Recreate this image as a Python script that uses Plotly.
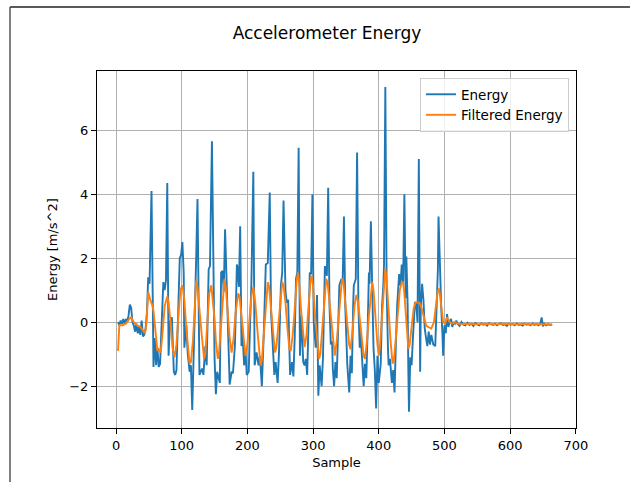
import plotly.graph_objects as go

# ---- data ----
energy_x = [3, 5, 7, 9, 11, 13, 15, 17, 19, 21, 23, 25, 27, 29, 31, 33, 35, 37, 39, 41, 43, 45, 47, 49, 51,
            54, 56, 57, 59, 61, 63, 65, 67, 69, 72, 74, 76, 78, 80, 82, 85, 88, 90, 92, 95, 97, 99, 101, 103,
            104, 107, 109, 112, 114, 116, 118, 121, 122, 124, 126, 127, 131, 133, 136, 138, 141, 143, 146, 148,
            150, 152, 154, 158, 160, 162, 164, 166, 168, 170, 173, 176, 178, 181, 184, 185, 187, 189, 191, 192,
            195, 197, 199, 202, 204, 206, 209, 210, 211, 214, 217, 219, 222, 225, 228, 231, 234, 236, 238, 241,
            243, 246, 248, 251, 253, 255, 258, 260, 262, 263, 265, 268, 270, 272, 274, 276, 278, 280, 282, 285,
            287, 289, 291, 293, 295, 297, 299, 301, 304, 306, 308, 310, 313, 315, 317, 318, 321, 323, 325, 327,
            329, 330, 332, 334, 336, 338, 340, 343, 345, 347, 349, 352, 355, 357, 359, 361, 362, 365, 367, 369,
            371, 372, 375, 377, 379, 381, 383, 385, 386, 388, 390, 392, 394, 396, 398, 400, 403, 405, 407, 408,
            410, 412, 414, 415, 417, 420, 422, 424, 426, 428, 431, 433, 435, 437, 439, 441, 442, 444, 445, 446,
            448, 450, 452, 454, 455, 457, 459, 461, 463, 464, 466, 468, 470, 472, 474, 476, 478, 480, 483, 486,
            488, 490, 491, 493, 495, 497, 498, 500, 502, 504, 506, 508, 510, 512, 514, 516, 518, 520, 523, 526,
            529, 532, 535, 538, 541, 544, 547, 550, 553, 556, 559, 562, 565, 568, 571, 574, 577, 580, 583, 586,
            589, 592, 595, 598, 601, 604, 607, 610, 613, 616, 619, 622, 625, 628, 631, 634, 637, 640, 643, 646,
            648, 650, 652, 655, 658, 661, 664]
energy_y = [0.0, -0.1, 0.05, -0.05, 0.1, -0.05, 0.1, 0.0, 0.2, 0.55, 0.45, 0.0, -0.1, -0.3, -0.05, -0.35,
            -0.15, -0.4, 0.05, -0.45, -0.4, -0.2, 0.3, 1.4, 1.2,
            4.1, 0.5, -1.4, -0.5, -1.35, -0.8, -1.4, -1.3, -0.3, 1.25, 1.0, 1.3, 4.35, -1.05, 0.0, 0.15, -1.55,
            -1.65, -1.5, 0.3, 2.0, 2.1, 2.5, 1.55,
            -0.8, -0.1, -0.95, -1.55, -1.35, -2.75, -1.35, 0.95, 2.0, 3.85, 0.5, -1.65, -1.45, -1.65, -0.75,
            -1.35, 1.65, 1.75, 5.65, 1.15,
            -1.15, -2.25, -1.55, -1.9, 1.55, 1.6, 0.95, 2.9, 1.25, 0.1, -1.95, -1.55, -1.6, -0.73, 1.8, 1.7,
            1.1, 3.0, -0.75, -0.1,
            -1.35, -0.85, -1.65, -1.55, -0.1, 1.15, 4.7, 0.5, -1.35, -0.95, -1.35, -1.05, -2.0, -0.3, 1.8, 1.85,
            4.05, 0.3, -0.5, -1.65,
            -1.25, -1.9, -1.0, 1.15, 1.55, 3.8, 0.95, 0.6, 0.7, -0.5, -1.65, -1.25, -1.7, -0.5, 1.35, 1.55, 5.45,
            -1.05, 0.2, -1.25,
            -1.35, -1.15, -1.65, -0.1, 1.55, 1.5, 4.0, 0.0, -0.8, 0.85, -2.3, -1.35, -2.0, -1.15, 0.4, 1.75, 1.45,
            4.2, 0.5, -0.7,
            -0.6, -1.45, -2.0, -1.25, -1.75, -0.5, 1.15, 1.35, 1.25, 3.3, 0.5, -1.3, -2.2, -1.05, -1.6, 0.5,
            1.15, 1.35, 5.3, 0.5,
            -0.8, -0.2, -1.15, -2.0, -1.3, -1.75, -0.3, 1.55, 1.2, 3.15, 1.1, -0.8, -1.5, -2.7, -1.05, -1.9,
            -1.3, 0.5, 1.15, 1.8,
            7.35, 1.0, -0.8, -1.35, -1.15, -1.9, -1.5, -2.2, -0.7, 0.5, 1.5, 1.15, 1.8, 1.2, 4.0, 0.75, 2.05,
            0.5, -1.5, -2.8,
            -1.1, -1.35, -0.5, 0.05, 0.6, 0.6, 0.0, 5.1, -1.55, 0.5, 1.2, 0.7, -0.2, -0.5, -0.75, -0.3, -0.7,
            -0.4, -0.7, -0.75,
            0.5, 1.65, 3.3, 1.5, 0.5, -0.4, -1.05, -0.1, -0.35, 0.25, -0.15, 0.0, 0.1, -0.15, 0.0, -0.05, 0.05,
            -0.05, -0.12, 0.0,
            -0.08, -0.1, -0.02, -0.09, -0.05, -0.12, -0.03, -0.07, -0.1, -0.04, -0.08, -0.06, -0.11, -0.03,
            -0.07, -0.09, -0.05, -0.1, -0.06, -0.04,
            -0.09, -0.07, -0.12, -0.05, -0.08, -0.06, -0.1, -0.04, -0.09, -0.07, -0.11, -0.05, -0.08, -0.06,
            -0.1, -0.04, -0.09, -0.06, -0.1, -0.05,
            0.15, -0.13, -0.05, -0.1, -0.06, -0.09, -0.07]

filtered_x = [3, 5, 10, 15, 20, 23, 27, 32, 37, 42, 44, 46, 49, 52, 55, 57, 60, 63, 65, 68, 71, 74, 78, 80,
              83, 86, 89, 92, 95, 98, 101, 104, 107, 110, 112, 114, 117, 120, 122, 124, 127, 130, 134, 136,
              139, 142, 145, 147, 150, 152, 155, 157, 160, 163, 165, 167, 170, 173, 176, 179, 182, 186, 188,
              191, 194, 197, 200, 203, 206, 209, 212, 215, 218, 220, 222, 225, 228, 231, 233, 236, 239, 242,
              244, 247, 250, 253, 255, 258, 261, 264, 266, 269, 272, 275, 277, 279, 282, 285, 287, 290, 293,
              296, 298, 300, 303, 306, 309, 311, 314, 317, 320, 322, 325, 328, 331, 333, 336, 339, 342, 344,
              346, 349, 352, 355, 357, 360, 363, 366, 368, 371, 374, 377, 379, 382, 385, 388, 390, 392, 395,
              398, 400, 402, 405, 408, 410, 412, 415, 418, 421, 423, 426, 429, 432, 435, 437, 439, 442, 445,
              447, 450, 453, 456, 459, 462, 465, 468, 472, 476, 480, 484, 487, 490, 492, 495, 498, 501, 504,
              508, 512, 516, 520, 530, 540, 550, 560, 570, 580, 590, 600, 610, 620, 630, 640, 650, 657, 664]
filtered_y = [-0.9, -0.1, -0.1, -0.05, 0.1, 0.15, 0.0, -0.1, -0.15, -0.3, -0.35, -0.1, 0.94, 0.7, 0.55, 0.35,
              -0.4, -0.9, -0.85, -0.95, -0.3, 0.5, 0.8, 0.6,
              0.0, -0.8, -1.1, -0.7, 0.2, 1.0, 1.15, 0.7, -0.2, -1.0, -1.3, -1.25, -0.6, 0.5, 1.3, 1.1, 0.5,
              -0.3, -1.15, -1.0,
              0.0, 0.9, 1.15, 0.8, 0.1, -0.6, -1.15, -0.9, 0.0, 1.0, 1.35, 1.1, 0.3, -0.5, -0.95, -0.5, 0.3,
              0.9, 0.8,
              0.1, -0.6, -1.05, -0.7, 0.0, 0.8, 1.1, 0.6, -0.2, -1.0, -1.35, -1.2, -0.3, 0.6, 1.25, 1.1, 0.4,
              -0.4, -0.95,
              -0.8, -0.1, 0.7, 1.25, 1.15, 0.6, -0.2, -0.85, -0.9, -0.4, 0.4, 1.3, 1.55, 1.2, 0.3, -0.5, -0.78,
              -0.4, 0.5,
              1.3, 1.45, 1.1, 0.2, -0.6, -1.15, -1.0, -0.2, 0.7, 1.35, 1.25, 0.6, -0.2, -0.85, -1.05, -0.6,
              0.2, 1.0, 1.35,
              1.3, 0.6, -0.1, -0.7, -0.85, -0.3, 0.5, 0.85, 0.7, 0.1, -0.5, -1.05, -1.15, -0.6, 0.2, 1.0, 1.25,
              1.0, 0.1,
              -0.7, -1.05, -0.7, 0.2, 1.3, 1.67, 1.3, 0.3, -0.6, -1.3, -1.2, -0.5, 0.3, 1.0, 1.25, 1.25, 0.9,
              0.0, -0.83,
              -0.7, -0.1, 0.4, 0.62, 0.6, 0.6, 0.45, 0.2, -0.1, -0.16, -0.2, 0.0, 0.5, 1.0, 1.05, 0.6, 0.0,
              -0.05, 0.15,
              0.0, -0.05, 0.0, -0.05, -0.06, -0.05, -0.07, -0.05, -0.06, -0.07, -0.05, -0.06, -0.07, -0.05,
              -0.07, -0.06, -0.06, -0.07, -0.08]

x_ticks = [0, 100, 200, 300, 400, 500, 600, 700]
y_ticks = [-2, 0, 2, 4, 6]
y_tick_text = ["\u22122", "0", "2", "4", "6"]

# ---- figure ----
fig = go.Figure()
fig.add_trace(go.Scatter(x=energy_x, y=energy_y, mode="lines", name="Energy",
                         line=dict(color="#1f77b4", width=1.9)))
fig.add_trace(go.Scatter(x=filtered_x, y=filtered_y, mode="lines", name="Filtered Energy",
                         line=dict(color="#ff7f0e", width=1.9)))

L, R, T, B = 97, 54, 71, 54
W, H = 630, 482
pw, ph = W - L - R, H - T - B

def px(xp):
    return (xp - L) / pw

def py(yp):
    return (H - B - yp) / ph

font = "DejaVu Sans, Liberation Sans, sans-serif"

fig.update_layout(
    width=W, height=H,
    margin=dict(l=L, r=R, t=T, b=B, pad=0),
    paper_bgcolor="white", plot_bgcolor="white",
    font=dict(family=font, size=13, color="black"),
    title=dict(text="Accelerometer Energy", x=px(327), xref="paper", xanchor="center",
               y=1 - 33 / H, yanchor="middle", font=dict(size=17, color="black")),
    showlegend=True,
    legend=dict(x=px(569), y=py(78), xanchor="right", yanchor="top",
                bgcolor="rgba(255,255,255,0.8)", bordercolor="#cccccc", borderwidth=1,
                font=dict(size=13.5), itemwidth=30, tracegroupgap=0),
    xaxis=dict(range=[-29, 700.3], tickvals=x_ticks, ticktext=[str(v) for v in x_ticks],
               showgrid=True, gridcolor="#b0b0b0", gridwidth=0.8, zeroline=False,
               showline=True, linecolor="black", linewidth=1, mirror=True,
               ticks="outside", ticklen=5, tickcolor="black", tickwidth=1,
               title=dict(text="Sample", standoff=6, font=dict(size=13))),
    yaxis=dict(range=[-3.31, 7.85], tickvals=y_ticks, ticktext=y_tick_text,
               showgrid=True, gridcolor="#b0b0b0", gridwidth=0.8, zeroline=False,
               showline=True, linecolor="black", linewidth=1, mirror=True,
               ticks="outside", ticklen=5, tickcolor="black", tickwidth=1,
               title=dict(text="Energy [m/s^2]", standoff=8, font=dict(size=13))),
    shapes=[
        dict(type="line", xref="paper", yref="paper", x0=px(10), x1=px(630), y0=py(7), y1=py(7),
             line=dict(color="#222222", width=1.5)),
        dict(type="line", xref="paper", yref="paper", x0=px(10), x1=px(10), y0=py(7), y1=py(482),
             line=dict(color="#555555", width=1.5)),
    ],
)

fig.write_html("out.html")
